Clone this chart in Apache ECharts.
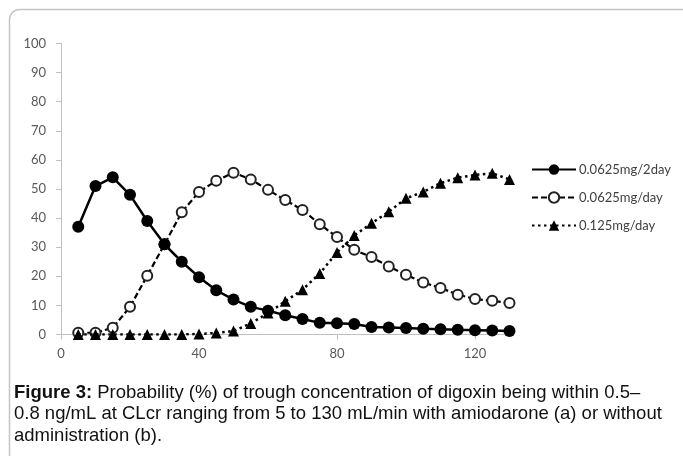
<!DOCTYPE html>
<html>
<head>
<meta charset="utf-8">
<script src="https://cdn.jsdelivr.net/npm/echarts@6/dist/echarts.min.js"></script>
<style>
  html, body { margin: 0; padding: 0; background: #fff; }
  #chart { width: 683px; height: 456px; }
</style>
</head>
<body>
<div id="chart"></div>
<script>
// CLcr (mL/min)
const clcr = [5, 10, 15, 20, 25, 30, 35, 40, 45, 50, 55, 60, 65,
              70, 75, 80, 85, 90, 95, 100, 105, 110, 115, 120, 125, 130];
// probability (%) per regimen
const every2day = [37, 51, 54, 48, 39, 31, 25, 19.7, 15.2, 12, 9.5, 8.2, 6.6,
                   5.3, 4, 3.9, 3.6, 2.6, 2.4, 2.2, 2, 1.8, 1.6, 1.5, 1.4, 1.2];
const daily0625 = [0.6, 0.6, 2.3, 9.5, 20.2, 31, 42, 49, 52.8, 55.6, 53.3, 49.7, 46.2,
                   42.8, 37.9, 33.5, 29.1, 26.6, 23.4, 20.5, 17.9, 16, 13.7, 12.2, 11.6, 10.8];
const daily125 = [0, 0, 0, 0, 0, 0, 0, 0.2, 0.5, 1.2, 3.8, 7.4, 11.4,
                  15.4, 21, 28.2, 34, 38.2, 42.2, 46.8, 49, 52, 53.9, 54.8, 55.4, 53.3];
const seriesNames = ['0.0625mg/2day', '0.0625mg/day', '0.125mg/day'];
const xTicks = [0, 40, 80, 120];

const pairs = vals => clcr.map((x, i) => [x, vals[i]]);

const chart = echarts.init(document.getElementById('chart'), null, { renderer: 'canvas' });

const axisFont = { fontFamily: 'Lato', fontSize: 13, color: '#595959' };
const axisLine = { lineStyle: { color: '#bfbfbf', width: 1 } };

const option = {
    animation: false,
    backgroundColor: '#fff',
    grid: { left: 61, right: 173.5, top: 43.5, bottom: 121.5 },
    xAxis: {
        type: 'value',
        min: 0,
        max: 130,
        interval: 40,
        splitLine: { show: false },
        axisLine: axisLine,
        axisTick: { show: true, length: 5, lineStyle: { color: '#bfbfbf' }, customValues: xTicks },
        axisLabel: Object.assign({ margin: 13, customValues: xTicks }, axisFont)
    },
    yAxis: {
        type: 'value',
        min: 0,
        max: 100,
        interval: 10,
        splitLine: { show: false },
        axisLine: { show: true, lineStyle: { color: '#bfbfbf', width: 1 } },
        axisTick: { show: true, length: 5, lineStyle: { color: '#bfbfbf' } },
        axisLabel: Object.assign({ margin: 15 }, axisFont)
    },
    legend: {
        orient: 'vertical',
        left: 526,
        top: 158,
        itemWidth: 44,
        itemHeight: 13,
        itemGap: 15,
        selectedMode: false,
        textStyle: { fontFamily: 'Lato', fontSize: 13, color: '#404040', padding: [0, 0, 0, -2] },
        data: seriesNames
    },
    series: [
        {
            name: seriesNames[0],
            type: 'line',
            z: 4,
            data: pairs(every2day),
            symbol: 'circle',
            symbolSize: 12,
            showAllSymbol: true,
            itemStyle: { color: '#000' },
            lineStyle: { color: '#000', width: 2.5 }
        },
        {
            name: seriesNames[1],
            type: 'line',
            z: 2,
            data: pairs(daily0625),
            symbol: 'emptyCircle',
            symbolSize: 10,
            showAllSymbol: true,
            itemStyle: { color: '#222', borderWidth: 1.2 },
            lineStyle: { color: '#000', width: 2.2, type: [6, 3] }
        },
        {
            name: seriesNames[2],
            type: 'line',
            z: 3,
            data: pairs(daily125),
            symbol: 'triangle',
            symbolSize: 11,
            showAllSymbol: true,
            itemStyle: { color: '#000' },
            lineStyle: { color: '#000', width: 2.5, type: [2.5, 3.5] }
        }
    ],
    graphic: [
        {
            type: 'rect',
            silent: true,
            shape: { x: 9.5, y: 9.5, width: 700, height: 480, r: 10 },
            style: { fill: 'none', stroke: '#c4c4c4', lineWidth: 1.5 }
        },
        {
            type: 'text',
            left: 14,
            top: 382,
            silent: true,
            style: {
                text: '{b|Figure 3:} Probability (%) of trough concentration of digoxin being within 0.5–\n' +
                      '0.8 ng/mL at CLcr ranging from 5 to 130 mL/min with amiodarone (a) or without\n' +
                      'administration (b).',
                font: '18.5px "Liberation Sans"',
                fill: '#111',
                lineHeight: 21.5,
                rich: {
                    b: { fontFamily: 'Liberation Sans', fontSize: 18.5, fontWeight: 'bold', fill: '#111', lineHeight: 21.5 }
                }
            }
        }
    ]
};

chart.setOption(option);
</script>
</body>
</html>
